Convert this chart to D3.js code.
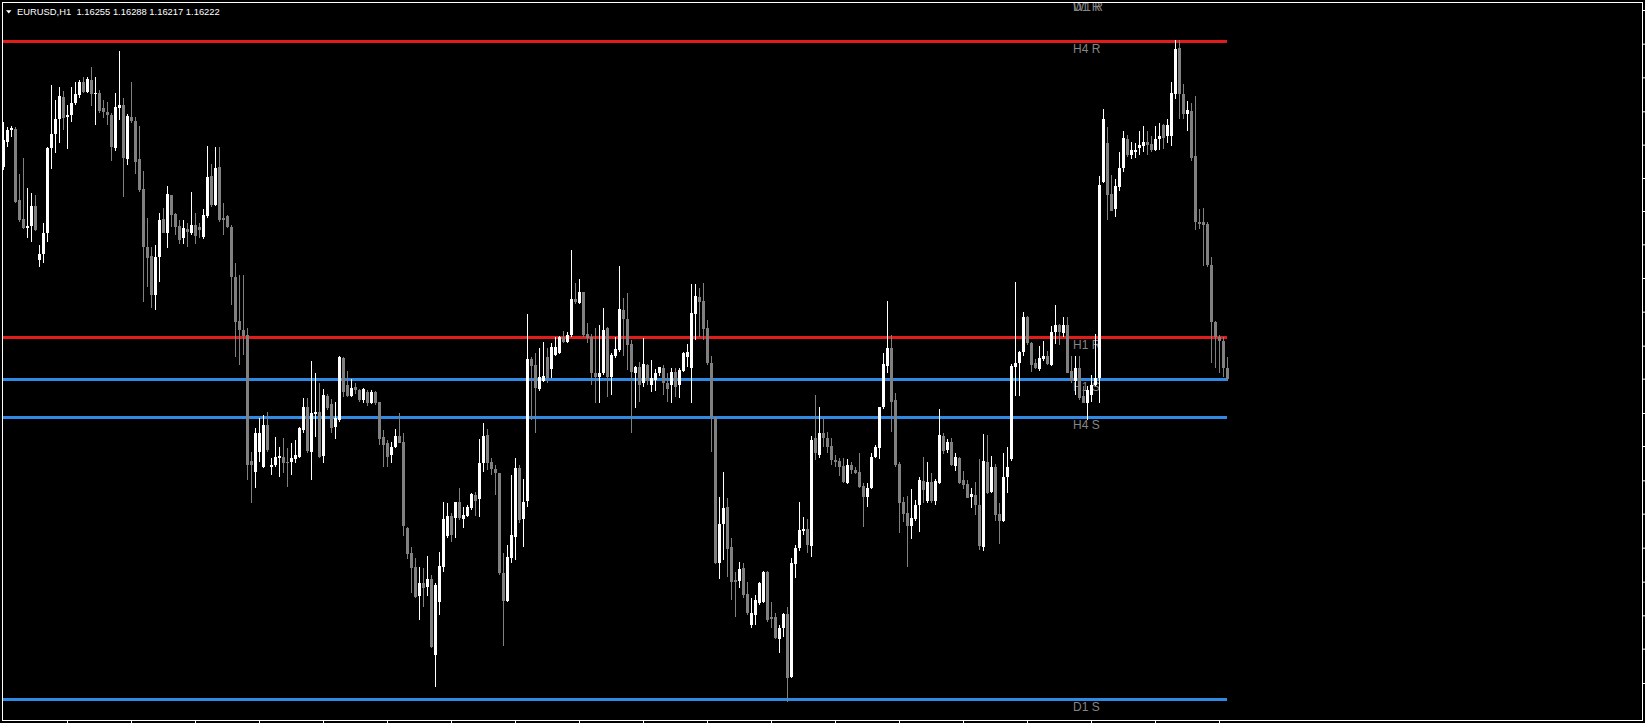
<!DOCTYPE html>
<html>
<head>
<meta charset="utf-8">
<script src="https://cdn.jsdelivr.net/npm/d3@7"></script>
<style>
html, body { margin: 0; padding: 0; background: #000; overflow: hidden; }
svg { display: block; }
</style>
</head>
<body>
<svg id="chart" width="1645" height="723"></svg>
<script>
const symbol = 'EURUSD,H1';

const open = [
  1.16859,1.16934,1.16969,1.16971,1.16759,1.16702,1.16674,1.16682,1.16741,1.16579,
  1.16596,1.16661,1.16914,1.16957,1.17002,1.17069,1.17007,1.17014,1.17049,1.17074,
  1.17112,1.17082,1.17119,1.17076,1.17079,1.17034,1.17024,1.17014,1.16914,1.17036,
  1.17044,1.16882,1.17009,1.16997,1.16882,1.16792,1.16619,1.16591,1.16474,1.16587,
  1.16702,1.16659,1.16774,1.16717,1.16681,1.16644,1.16671,1.16659,1.16684,1.16679,
  1.16649,1.16711,1.16831,1.16744,1.16859,1.16704,1.16711,1.16679,1.16529,1.16396,
  1.16369,1.16354,1.15977,1.15944,1.16004,1.15959,1.16084,1.15959,1.15964,1.15984,
  1.15989,1.15974,1.15974,1.15981,1.15989,1.16069,1.16139,1.16004,1.16116,1.16122,
  1.15991,1.16172,1.16147,1.16077,1.16099,1.16286,1.16204,1.16171,1.16199,1.16189,
  1.16159,1.16184,1.16149,1.16182,1.16152,1.16049,1.16031,1.15994,1.16017,1.16051,
  1.16034,1.15776,1.15699,1.15657,1.15571,1.15611,1.15597,1.15621,1.15394,1.15554,
  1.15659,1.15751,1.15811,1.15804,1.15854,1.15801,1.15811,1.15834,1.15874,1.15861,
  1.15969,1.16054,1.15974,1.15951,1.15939,1.15641,1.15557,1.15684,1.15749,1.15954,
  1.15801,1.15857,1.16281,1.16264,1.16191,1.16217,1.16289,1.16251,1.16294,1.16299,
  1.16349,1.16334,1.16354,1.16461,1.16451,1.16484,1.16357,1.16349,1.16241,1.16227,
  1.16239,1.16374,1.16227,1.16291,1.16309,1.16429,1.16401,1.16327,1.16241,1.16257,
  1.16209,1.16264,1.16204,1.16219,1.16239,1.16254,1.16211,1.16204,1.16244,1.16204,
  1.16247,1.16287,1.16254,1.16417,1.16469,1.16457,1.16374,1.16269,1.16109,1.15671,
  1.15787,1.15837,1.15717,1.15619,1.15617,1.15654,1.15577,1.15484,1.15514,1.15549,
  1.15554,1.15644,1.15509,1.15509,1.15441,1.15474,1.15517,1.15327,1.15667,1.15714,
  1.15767,1.15771,1.15721,1.16044,1.15994,1.16061,1.16044,1.16021,1.15979,1.15977,
  1.15961,1.15909,1.15964,1.15949,1.15944,1.15901,1.15867,1.15894,1.15987,1.16014,
  1.16137,1.16261,1.16314,1.16159,1.15967,1.15854,1.15821,1.15781,1.15801,1.15843,
  1.15916,1.15855,1.15914,1.15855,1.15911,1.16050,1.16009,1.16033,1.15962,1.15985,
  1.15918,1.15908,1.15868,1.15874,1.15845,1.15719,1.15972,1.15884,1.15957,1.15817,
  1.15797,1.15928,1.15982,1.16259,1.16271,1.16303,1.16408,1.16330,1.16269,1.16251,
  1.16283,1.16291,1.16263,1.16362,1.16384,1.16360,1.16384,1.16246,1.16215,1.16256,
  1.16170,1.16151,1.16175,1.16205,1.16225,1.16813,1.16930,1.16776,1.16732,1.16798,
  1.16854,1.16942,1.16894,1.16904,1.16915,1.16922,1.16932,1.16928,1.16910,1.16942,
  1.16985,1.16950,1.16950,1.17077,1.17215,1.17077,1.17016,1.17026,1.16891,1.16694,
  1.16692,1.16688,1.16565,1.16393,1.16347,1.16337,1.16255
];
const high = [
  1.16994,1.16977,1.16981,1.16977,1.16837,1.16884,1.16794,1.16779,1.16774,1.16624,
  1.16691,1.16917,1.17104,1.17059,1.17099,1.17087,1.17044,1.17099,1.17114,1.17119,
  1.17127,1.17127,1.17157,1.17127,1.17089,1.17059,1.17054,1.17021,1.17079,1.17206,
  1.17064,1.17017,1.17114,1.17007,1.16981,1.16846,1.16704,1.16619,1.16624,1.16719,
  1.16734,1.16802,1.16774,1.16719,1.16699,1.16699,1.16689,1.16782,1.16719,1.16689,
  1.16731,1.16921,1.16867,1.16917,1.16917,1.16749,1.16714,1.16684,1.16569,1.16534,
  1.16534,1.16374,1.16004,1.16074,1.16104,1.16114,1.16124,1.15984,1.16049,1.16019,
  1.16044,1.16014,1.16029,1.16039,1.16079,1.16164,1.16164,1.16277,1.16239,1.16211,
  1.16191,1.16177,1.16161,1.16154,1.16291,1.16289,1.16247,1.16221,1.16211,1.16191,
  1.16194,1.16189,1.16189,1.16186,1.16154,1.16069,1.16039,1.16034,1.16071,1.16119,
  1.16059,1.15779,1.15719,1.15684,1.15659,1.15654,1.15691,1.15634,1.15609,1.15704,
  1.15854,1.15849,1.15821,1.15854,1.15894,1.15839,1.15844,1.15879,1.15884,1.16041,
  1.16089,1.16071,1.15984,1.15964,1.15939,1.15699,1.15724,1.15934,1.15984,1.15964,
  1.15921,1.16417,1.16289,1.16301,1.16314,1.16334,1.16314,1.16331,1.16349,1.16351,
  1.16367,1.16364,1.16609,1.16511,1.16521,1.16484,1.16389,1.16357,1.16374,1.16384,
  1.16434,1.16379,1.16299,1.16349,1.16560,1.16464,1.16481,1.16339,1.16261,1.16274,
  1.16344,1.16267,1.16279,1.16251,1.16259,1.16264,1.16239,1.16254,1.16254,1.16254,
  1.16304,1.16327,1.16507,1.16507,1.16494,1.16509,1.16399,1.16291,1.16109,1.15869,
  1.15944,1.15864,1.15744,1.15644,1.15674,1.15669,1.15614,1.15564,1.15574,1.15614,
  1.15647,1.15647,1.15554,1.15521,1.15484,1.15521,1.15539,1.15684,1.15724,1.15854,
  1.15809,1.15801,1.16051,1.16174,1.16139,1.16104,1.16064,1.16044,1.15994,1.15984,
  1.15984,1.15981,1.15974,1.15959,1.16001,1.15909,1.15909,1.16001,1.16024,1.16139,
  1.16301,1.16457,1.16354,1.16181,1.15974,1.15869,1.15871,1.15891,1.15859,1.15928,
  1.15987,1.15972,1.15941,1.15921,1.16131,1.16060,1.16043,1.16046,1.15999,1.15989,
  1.15947,1.15918,1.15896,1.15914,1.15982,1.16058,1.16053,1.15992,1.15967,1.15850,
  1.15999,1.16018,1.16266,1.16512,1.16306,1.16423,1.16411,1.16334,1.16283,1.16322,
  1.16337,1.16306,1.16382,1.16443,1.16387,1.16408,1.16408,1.16291,1.16291,1.16291,
  1.16200,1.16200,1.16235,1.16357,1.16830,1.17033,1.16978,1.16833,1.16823,1.16904,
  1.16965,1.16955,1.16932,1.16930,1.16965,1.16982,1.16965,1.16952,1.16980,1.16991,
  1.16988,1.17003,1.17112,1.17239,1.17239,1.17107,1.17056,1.17051,1.17070,1.16732,
  1.16735,1.16692,1.16587,1.16395,1.16354,1.16347,1.16288
];
const low = [
  1.16849,1.16917,1.16949,1.16749,1.16694,1.16671,1.16644,1.16634,1.16667,1.16559,
  1.16569,1.16634,1.16851,1.16899,1.16931,1.16969,1.16911,1.16994,1.17044,1.17064,
  1.17079,1.17079,1.17042,1.16984,1.17021,1.17004,1.16984,1.16877,1.16907,1.16999,
  1.16769,1.16864,1.16989,1.16837,1.16784,1.16454,1.16499,1.16434,1.16429,1.16514,
  1.16659,1.16614,1.16677,1.16654,1.16627,1.16627,1.16619,1.16654,1.16627,1.16644,
  1.16642,1.16704,1.16739,1.16741,1.16694,1.16654,1.16674,1.16444,1.16289,1.16264,
  1.16294,1.15919,1.15851,1.15894,1.15974,1.15954,1.16004,1.15934,1.15959,1.15929,
  1.15939,1.15899,1.15934,1.15971,1.15984,1.16059,1.16001,1.15919,1.16049,1.15984,
  1.15969,1.16129,1.16059,1.16041,1.16094,1.16169,1.16167,1.16169,1.16177,1.16154,
  1.16149,1.16141,1.16147,1.16144,1.16024,1.15959,1.15959,1.15971,1.16014,1.16029,
  1.15751,1.15681,1.15579,1.15564,1.15499,1.15539,1.15571,1.15414,1.15299,1.15514,
  1.15644,1.15744,1.15734,1.15744,1.15799,1.15774,1.15809,1.15829,1.15811,1.15809,
  1.15944,1.15949,1.15934,1.15874,1.15634,1.15421,1.15554,1.15671,1.15679,1.15789,
  1.15719,1.15839,1.16099,1.16059,1.16187,1.16214,1.16211,1.16224,1.16291,1.16297,
  1.16329,1.16329,1.16347,1.16447,1.16447,1.16349,1.16331,1.16204,1.16151,1.16149,
  1.16234,1.16169,1.16174,1.16284,1.16304,1.16291,1.16249,1.16061,1.16134,1.16154,
  1.16199,1.16204,1.16184,1.16187,1.16231,1.16174,1.16154,1.16151,1.16169,1.16164,
  1.16244,1.16259,1.16149,1.16339,1.16349,1.16339,1.16264,1.16004,1.15667,1.15621,
  1.15679,1.15629,1.15559,1.15509,1.15594,1.15564,1.15514,1.15474,1.15484,1.15544,
  1.15549,1.15494,1.15474,1.15441,1.15399,1.15449,1.15254,1.15324,1.15624,1.15707,
  1.15754,1.15699,1.15689,1.15979,1.15984,1.16019,1.15999,1.15964,1.15959,1.15931,
  1.15909,1.15907,1.15937,1.15937,1.15894,1.15779,1.15837,1.15891,1.15984,1.15981,
  1.16131,1.16239,1.16064,1.15957,1.15761,1.15794,1.15659,1.15741,1.15797,1.15764,
  1.15850,1.15850,1.15850,1.15843,1.15906,1.15997,1.15999,1.15962,1.15947,1.15908,
  1.15891,1.15864,1.15835,1.15815,1.15708,1.15705,1.15876,1.15881,1.15795,1.15726,
  1.15793,1.15881,1.15975,1.16172,1.16172,1.16291,1.16324,1.16243,1.16251,1.16246,
  1.16276,1.16263,1.16261,1.16327,1.16324,1.16347,1.16239,1.16210,1.16175,1.16160,
  1.16149,1.16099,1.16154,1.16200,1.16151,1.16810,1.16699,1.16725,1.16709,1.16786,
  1.16844,1.16887,1.16881,1.16884,1.16894,1.16904,1.16894,1.16904,1.16907,1.16910,
  1.16912,1.16930,1.16920,1.17061,1.17001,1.17001,1.16965,1.16877,1.16668,1.16671,
  1.16560,1.16557,1.16271,1.16256,1.16241,1.16228,1.16217
];
const close = [
  1.16939,1.16969,1.16976,1.16754,1.16699,1.16674,1.16682,1.16741,1.16669,1.16596,
  1.16661,1.16914,1.16957,1.17002,1.17071,1.17004,1.17014,1.17051,1.17077,1.17114,
  1.17082,1.17121,1.17076,1.17081,1.17026,1.17024,1.17014,1.16917,1.17039,1.17044,
  1.16884,1.17011,1.16997,1.16874,1.16789,1.16617,1.16584,1.16474,1.16589,1.16699,
  1.16661,1.16777,1.16714,1.16677,1.16639,1.16674,1.16664,1.16684,1.16651,1.16669,
  1.16714,1.16829,1.16744,1.16856,1.16699,1.16699,1.16677,1.16527,1.16394,1.16369,
  1.16351,1.15964,1.15964,1.16059,1.16059,1.16084,1.16009,1.15964,1.15987,1.15991,
  1.15971,1.15969,1.15984,1.15994,1.16074,1.16139,1.16007,1.16119,1.16122,1.15989,
  1.16174,1.16134,1.16074,1.16106,1.16289,1.16184,1.16171,1.16194,1.16189,1.16159,
  1.16191,1.16151,1.16184,1.16149,1.16041,1.16024,1.15989,1.16017,1.16051,1.16031,
  1.15781,1.15697,1.15654,1.15569,1.15611,1.15594,1.15621,1.15417,1.15604,1.15661,
  1.15801,1.15811,1.15754,1.15854,1.15804,1.15814,1.15839,1.15877,1.15857,1.15969,
  1.16051,1.15971,1.15951,1.15939,1.15641,1.15557,1.15687,1.15754,1.15954,1.15799,
  1.15854,1.16281,1.16261,1.16194,1.16227,1.16231,1.16224,1.16319,1.16319,1.16347,
  1.16334,1.16354,1.16461,1.16454,1.16484,1.16354,1.16344,1.16239,1.16227,1.16239,
  1.16369,1.16227,1.16294,1.16311,1.16431,1.16401,1.16324,1.16244,1.16259,1.16204,
  1.16266,1.16217,1.16224,1.16239,1.16257,1.16209,1.16191,1.16244,1.16199,1.16249,
  1.16301,1.16304,1.16421,1.16471,1.16454,1.16371,1.16269,1.16109,1.15669,1.15787,
  1.15834,1.15711,1.15614,1.15614,1.15651,1.15574,1.15519,1.15519,1.15559,1.15609,
  1.15644,1.15499,1.15501,1.15444,1.15474,1.15517,1.15324,1.15669,1.15714,1.15769,
  1.15771,1.15724,1.16039,1.15999,1.16061,1.16044,1.16019,1.15979,1.15973,1.15959,
  1.15914,1.15964,1.15949,1.15939,1.15899,1.15869,1.15894,1.15987,1.16017,1.16137,
  1.16267,1.16314,1.16154,1.15964,1.15851,1.15817,1.15781,1.15804,1.15844,1.15918,
  1.15888,1.15914,1.15855,1.15916,1.16053,1.16005,1.16033,1.15965,1.15987,1.15911,
  1.15904,1.15866,1.15878,1.15845,1.15722,1.15975,1.15881,1.15957,1.15815,1.15795,
  1.15928,1.15959,1.16261,1.16271,1.16303,1.16408,1.16330,1.16263,1.16256,1.16286,
  1.16291,1.16266,1.16362,1.16384,1.16362,1.16384,1.16241,1.16215,1.16256,1.16165,
  1.16151,1.16190,1.16205,1.16225,1.16803,1.17001,1.16773,1.16727,1.16800,1.16854,
  1.16945,1.16894,1.16909,1.16909,1.16925,1.16932,1.16925,1.16910,1.16942,1.16952,
  1.16945,1.16985,1.17080,1.17213,1.17077,1.17016,1.17029,1.16884,1.16692,1.16688,
  1.16684,1.16565,1.16393,1.16347,1.16337,1.16256,1.16222
];

// support / resistance levels
const levelNames  = ['D1 R', 'W1 R', 'H4 R', 'H1 R', 'H1 S', 'H4 S', 'D1 S'];
const levelPrices = [1.17361, 1.17360, 1.17236, 1.16348, 1.16222, 1.16107, 1.15262];
const levelKinds  = ['R', 'R', 'R', 'R', 'S', 'S', 'S'];

const priceTicks = [1.17329, 1.17228, 1.17127, 1.17025, 1.16925, 1.16825, 1.16726, 1.16626,
  1.16525, 1.16424, 1.16322, 1.16223, 1.16120, 1.16021, 1.15918, 1.15818, 1.15716, 1.15614,
  1.15513, 1.15413, 1.15310];
const timeTicks = [16, 32, 48, 64, 80, 96, 112, 128, 144, 160, 176, 192, 208, 224, 240, 256, 272, 288, 304];

const width = 1645, height = 723;
const n = Math.min(open.length, high.length, low.length, close.length);
const bars = d3.range(n).map(i => ({ i, o: open[i], h: high[i], l: low[i], c: close[i] }));

const x = d3.scaleLinear().domain([0, n - 1]).range([3, 3 + 4 * (n - 1)]);
const y = d3.scaleLinear().domain([1.15199, 1.17359]).range([720, 0]);

const svg = d3.select('#chart');
svg.append('rect').attr('width', width).attr('height', height).attr('fill', '#000');

svg.append('defs').append('clipPath')
    .attr('id', 'plot')
    .append('rect')
    .attr('x', 3).attr('y', 3)
    .attr('width', 1639).attr('height', 717);

const plot = svg.append('g').attr('clip-path', 'url(#plot)');

const levels = levelNames.map((name, k) => ({ name, price: levelPrices[k], kind: levelKinds[k] }));
const lineEnd = x(n - 1);

plot.append('g').selectAll('rect')
    .data(levels).enter().append('rect')
    .attr('x', 0)
    .attr('y', d => Math.round(y(d.price)) - 1)
    .attr('width', lineEnd)
    .attr('height', 3)
    .attr('shape-rendering', 'crispEdges')
    .attr('fill', d => d.kind === 'R' ? '#e21b1b' : '#2f8ae6');

plot.append('g').selectAll('text')
    .data(levels).enter().append('text')
    .attr('x', 1073)
    .attr('y', d => y(d.price) + 11.5)
    .attr('font-family', '"Liberation Sans", Arial, sans-serif')
    .attr('font-size', '12px')
    .attr('fill', '#858585')
    .text(d => d.name);

const candle = plot.append('g').selectAll('g')
    .data(bars).enter().append('g')
    .attr('fill', d => d.c >= d.o ? '#ffffff' : '#808080');

candle.append('rect')
    .attr('x', d => Math.round(x(d.i)))
    .attr('y', d => Math.round(y(d.h)))
    .attr('width', 1)
    .attr('height', d => Math.max(1, Math.round(y(d.l)) - Math.round(y(d.h))))
    .attr('shape-rendering', 'crispEdges');

candle.append('rect')
    .attr('x', d => Math.round(x(d.i)) - 1)
    .attr('y', d => Math.round(y(Math.max(d.o, d.c))))
    .attr('width', 3)
    .attr('height', d => Math.max(1, Math.round(y(Math.min(d.o, d.c))) - Math.round(y(Math.max(d.o, d.c)))))
    .attr('shape-rendering', 'crispEdges');

// frame and axis ticks
svg.append('rect')
    .attr('x', 2.5).attr('y', 2.5)
    .attr('width', 1640).attr('height', 718)
    .attr('fill', 'none')
    .attr('stroke', '#ffffff')
    .attr('stroke-width', 1);

const yAxis = svg.append('g')
    .attr('transform', 'translate(1642.5,0)')
    .call(d3.axisRight(y).tickValues(priceTicks).tickSize(3).tickFormat(''));
yAxis.select('.domain').remove();
yAxis.selectAll('line').attr('stroke', '#ffffff');

const xAxis = svg.append('g')
    .attr('transform', 'translate(0,720.5)')
    .call(d3.axisBottom(x).tickValues(timeTicks).tickSize(3).tickFormat(''));
xAxis.select('.domain').remove();
xAxis.selectAll('line').attr('stroke', '#ffffff');

// title
svg.append('path')
    .attr('d', 'M6,10.3 L11.5,10.3 L8.75,13.6 Z')
    .attr('fill', '#ffffff');

const last = bars[n - 1];
const fmt = d3.format('.5f');
svg.append('text')
    .attr('x', 17)
    .attr('y', 15)
    .attr('font-family', '"Liberation Sans", Arial, sans-serif')
    .attr('font-size', '9.4px')
    .attr('fill', '#ffffff')
    .style('white-space', 'pre')
    .text(`${symbol}  ${fmt(last.o)} ${fmt(last.h)} ${fmt(last.l)} ${fmt(last.c)}`);
</script>
</body>
</html>
